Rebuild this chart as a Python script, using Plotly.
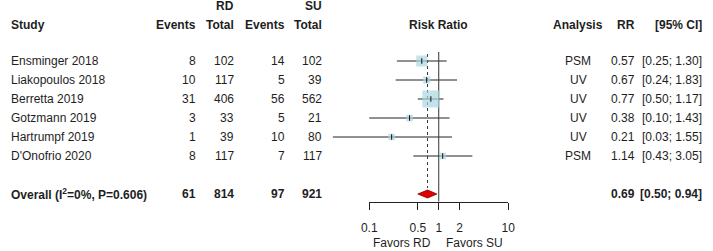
import math
import plotly.graph_objects as go

# ---------------- data ----------------
studies = ["Ensminger 2018", "Liakopoulos 2018", "Berretta 2019",
           "Gotzmann 2019", "Hartrumpf 2019", "D'Onofrio 2020"]
rd_events = [8, 10, 31, 3, 1, 8]
rd_total = [102, 117, 406, 33, 39, 117]
su_events = [14, 5, 56, 5, 10, 7]
su_total = [102, 39, 562, 21, 80, 117]
analysis = ["PSM", "UV", "UV", "UV", "UV", "PSM"]
rr = [0.57, 0.67, 0.77, 0.38, 0.21, 1.14]
ci_lower = [0.25, 0.24, 0.50, 0.10, 0.03, 0.43]
ci_upper = [1.30, 1.83, 1.17, 1.43, 1.55, 3.05]

overall_label = "Overall (I<sup>2</sup>=0%, P=0.606)"
overall_rd_events = 61
overall_rd_total = 814
overall_su_events = 97
overall_su_total = 921
overall_rr = 0.69
overall_lower = 0.50
overall_upper = 0.94

tick_vals = [0.1, 0.5, 1, 2, 10]
tick_text = ["0.1", "0.5", "1", "2", "10"]
favors_left = "Favors RD"
favors_right = "Favors SU"

# ---------------- style ----------------
W, H = 713, 251
FONT = "Liberation Sans, Arial, sans-serif"
TXT = "#1e1e1e"
FS = 12
square_sizes = [11, 7, 17, 6.5, 6.5, 6.5]
SQ_COLOR = "#a9d6e1"
ROW0_PX, ROW_STEP = 61, 19          # first study row / spacing (pixels)
PX_PER_DECADE, ONE_PX = 71, 440     # forest scale


def yrow(px):
    return (px - ROW0_PX) / ROW_STEP


n = len(studies)
rows = list(range(n))
overall_row = n + 1

fig = go.Figure()

# CI lines
cx, cy = [], []
for i in rows:
    cx += [ci_lower[i], ci_upper[i], None]
    cy += [i, i, None]
fig.add_trace(go.Scatter(x=cx, y=cy, mode="lines",
                         line=dict(color="#222", width=1),
                         hoverinfo="skip", showlegend=False))

# reference line at 1 (no effect)
fig.add_trace(go.Scatter(x=[1, 1], y=[yrow(52), yrow(201.5)], mode="lines",
                         line=dict(color="#333", width=1),
                         hoverinfo="skip", showlegend=False))
# dashed line at overall estimate
fig.add_trace(go.Scatter(x=[overall_rr, overall_rr], y=[yrow(54), yrow(188)],
                         mode="lines",
                         line=dict(color="#333", width=1, dash="3px,3px"),
                         hoverinfo="skip", showlegend=False))

# squares
fig.add_trace(go.Scatter(x=rr, y=rows, mode="markers",
                         marker=dict(symbol="square", size=square_sizes,
                                     color=SQ_COLOR, line=dict(width=0)),
                         hoverinfo="skip", showlegend=False))
# point estimate ticks
fig.add_trace(go.Scatter(x=rr, y=rows, mode="markers",
                         marker=dict(symbol="line-ns", size=4,
                                     line=dict(color="#111", width=1)),
                         hoverinfo="skip", showlegend=False))

# diamond
dh = 4 / ROW_STEP
fig.add_trace(go.Scatter(
    x=[overall_lower, overall_rr, overall_upper, overall_rr, overall_lower],
    y=[overall_row, overall_row - dh, overall_row, overall_row + dh, overall_row],
    mode="lines", fill="toself", fillcolor="#e00000",
    line=dict(color="#7a0000", width=0.8),
    hoverinfo="skip", showlegend=False))

# invisible trace so the visible forest axis is built
fig.add_trace(go.Scatter(x=tick_vals, y=[yrow(201.5)] * len(tick_vals), xaxis="x2",
                         mode="markers", marker=dict(size=1, opacity=0),
                         hoverinfo="skip", showlegend=False))

ann = []


def txt(xpx, yv, s, anchor="right", bold=False):
    if bold:
        s = "<b>" + s + "</b>"
    ann.append(dict(x=xpx / W, xref="paper", y=yv, yref="y", text=s,
                    showarrow=False, xanchor=anchor, yanchor="middle",
                    borderpad=0, font=dict(family=FONT, size=FS, color=TXT)))


hdr1 = yrow(6)
hdr2 = yrow(25)
txt(232, hdr1, "RD", bold=True)
txt(321.5, hdr1, "SU", bold=True)
txt(2, hdr2, "Study", "left", True)
txt(193, hdr2, "Events", bold=True)
txt(232, hdr2, "Total", bold=True)
txt(284, hdr2, "Events", bold=True)
txt(321.5, hdr2, "Total", bold=True)
txt(ONE_PX, hdr2, "Risk Ratio", "center", True)
txt(582.5, hdr2, "Analysis", "center", True)
txt(642, hdr2, "RR", bold=True)
txt(710, hdr2, "[95% CI]", bold=True)

for i in rows:
    txt(2, i, studies[i], "left")
    txt(193, i, str(rd_events[i]))
    txt(232, i, str(rd_total[i]))
    txt(284, i, str(su_events[i]))
    txt(321.5, i, str(su_total[i]))
    txt(582.5, i, analysis[i], "center")
    txt(642, i, f"{rr[i]:.2f}")
    txt(710, i, f"[{ci_lower[i]:.2f}; {ci_upper[i]:.2f}]")

txt(2, overall_row, overall_label, "left", True)
txt(193, overall_row, str(overall_rd_events), bold=True)
txt(232, overall_row, str(overall_rd_total), bold=True)
txt(284, overall_row, str(overall_su_events), bold=True)
txt(321.5, overall_row, str(overall_su_total), bold=True)
txt(642, overall_row, f"{overall_rr:.2f}", bold=True)
txt(710, overall_row, f"[{overall_lower:.2f}; {overall_upper:.2f}]", bold=True)

fav_y = yrow(243)
txt(ONE_PX - 38, fav_y, favors_left, "center")
txt(ONE_PX + 37, fav_y, favors_right, "center")

x_lo = -ONE_PX / PX_PER_DECADE
x_hi = (W - ONE_PX) / PX_PER_DECADE
ax_left = ONE_PX - PX_PER_DECADE * 1
ax_right = ONE_PX + PX_PER_DECADE * 1

fig.update_layout(
    width=W, height=H,
    margin=dict(l=0, r=0, t=0, b=0),
    paper_bgcolor="white", plot_bgcolor="rgba(0,0,0,0)",
    font=dict(family=FONT, size=FS, color=TXT),
    showlegend=False,
    xaxis=dict(type="log", range=[x_lo, x_hi], domain=[0, 1], visible=False,
               fixedrange=True),
    yaxis=dict(range=[yrow(H), yrow(0)], domain=[0, 1], visible=False,
               fixedrange=True),
    xaxis2=dict(type="log", range=[math.log10(tick_vals[0]), math.log10(tick_vals[-1])],
                domain=[ax_left / W, ax_right / W],
                anchor="free", position=1 - 201.5 / H,
                showline=True, linecolor="#222", linewidth=1,
                ticks="outside", ticklen=7, tickwidth=1, tickcolor="#222",
                tickvals=tick_vals, ticktext=tick_text,
                tickfont=dict(family=FONT, size=FS, color=TXT),
                ticklabelstandoff=8,
                showgrid=False, zeroline=False, fixedrange=True),
    annotations=ann,
)

fig.write_html("out.html", config={"displayModeBar": False},
               post_script="document.body.style.margin='0';"
                           "document.body.style.overflow='hidden';")
